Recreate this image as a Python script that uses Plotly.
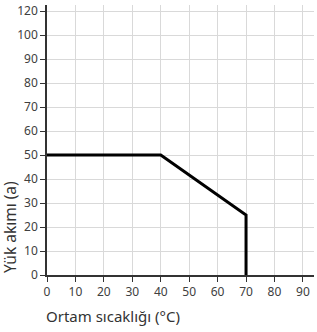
import plotly.graph_objects as go

# Data
temperature = [0, 40, 70, 70]
load_current = [50, 50, 25, 0]

x_tickvals = [0, 10, 20, 30, 40, 50, 60, 70, 80, 90]
x_ticktext = ["0", "10", "20", "30", "40", "50", "60", "70", "80", "90"]
y_tickvals = [0, 10, 20, 30, 40, 50, 60, 70, 80, 90, 100, 110]
y_ticktext = ["0", "10", "20", "30", "40", "50", "60", "70", "80", "90", "100", "120"]

x_title = "Ortam sıcaklığı (°C)"
y_title = "Yük akımı (a)"

font_family = "Noto Sans"
tick_color = "#404040"

fig = go.Figure()
fig.add_trace(go.Scatter(
    x=temperature, y=load_current, mode="lines",
    line=dict(color="black", width=3),
    hoverinfo="skip", showlegend=False,
))

fig.update_layout(
    width=317, height=332,
    margin=dict(l=47, r=3, t=5, b=57),
    paper_bgcolor="white", plot_bgcolor="white",
    font=dict(family=font_family, size=12, color=tick_color),
    xaxis=dict(
        range=[0, 93.9], tickmode="array", tickvals=x_tickvals, ticktext=x_ticktext,
        showgrid=True, gridcolor="#d9d9d9", gridwidth=1,
        showline=True, linecolor="#333333", linewidth=1.5,
        ticks="outside", ticklen=5, tickcolor="#333333", tickwidth=1,
        zeroline=False, tickfont=dict(size=12, color=tick_color),
    ),
    yaxis=dict(
        range=[0, 112.5], tickmode="array", tickvals=y_tickvals, ticktext=y_ticktext,
        showgrid=True, gridcolor="#d9d9d9", gridwidth=1,
        showline=True, linecolor="#333333", linewidth=1.5,
        ticks="outside", ticklen=5, tickcolor="#333333", tickwidth=1,
        zeroline=False, tickfont=dict(size=12, color=tick_color),
    ),
    annotations=[
        dict(text=x_title, xref="paper", yref="paper", x=0, y=0,
             xanchor="left", yanchor="middle", xshift=-3, yshift=-41, showarrow=False,
             font=dict(size=15, color="#333333", family=font_family)),
        dict(text=y_title, xref="paper", yref="paper", x=0, y=0,
             xanchor="center", yanchor="bottom", xshift=-37, textangle=-90,
             showarrow=False,
             font=dict(size=15.5, color="#333333", family=font_family)),
    ],
)

fig.write_html("out.html", config={"displayModeBar": False},
               post_script="document.body.style.margin='0';document.body.style.overflow='hidden';")
